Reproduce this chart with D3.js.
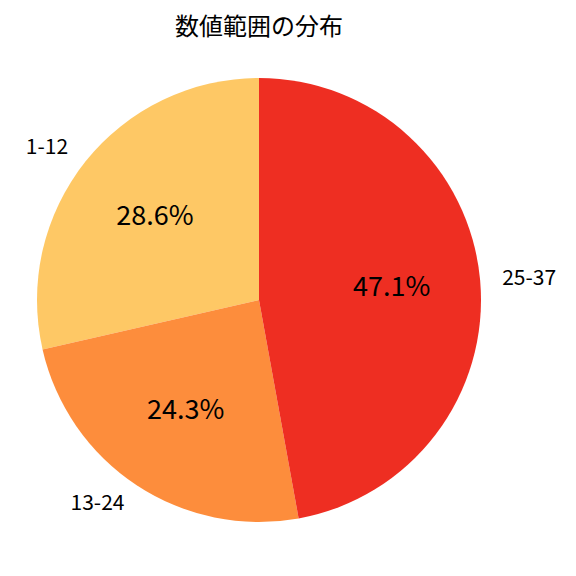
<!DOCTYPE html>
<html><head><meta charset="utf-8">
<script src="https://cdn.jsdelivr.net/npm/d3@7"></script>
<style>body{margin:0;background:#fff;} text{font-family:"Noto Sans CJK JP","Noto Sans",sans-serif;}</style>
</head><body>
<svg id="c" width="576" height="576"></svg>
<script>
const categories = ["1-12", "13-24", "25-37"];
const counts = [20, 17, 33];
const colors = ["#FEC865", "#FD8D3C", "#EE2E22"];
const title = "数値範囲の分布";

const svg = d3.select("#c");
const cx = 259, cy = 300, r = 222;
const data = categories.map((c, i) => ({cat: c, v: counts[i], col: colors[i]}));
const total = d3.sum(counts);
// counterclockwise from top (matplotlib startangle=90)
const pie = d3.pie().value(d => d.v).sort(null).startAngle(0).endAngle(-2 * Math.PI);
const arcs = pie(data);
const arc = d3.arc().innerRadius(0).outerRadius(r);
const g = svg.append("g").attr("transform", `translate(${cx},${cy})`);
g.selectAll("path").data(arcs).join("path").attr("d", arc).attr("fill", d => d.data.col);

const mid = d => (d.startAngle + d.endAngle) / 2;
g.selectAll("text.lab").data(arcs).join("text").attr("class", "lab")
  .attr("x", d => Math.sin(mid(d)) * r * 1.1)
  .attr("y", d => -Math.cos(mid(d)) * r * 1.1)
  .attr("dy", "-0.12em")
  .attr("text-anchor", d => Math.sin(mid(d)) >= 0 ? "start" : "end")
  .attr("dominant-baseline", "central")
  .attr("font-size", 21).attr("fill", "#000")
  .text(d => d.data.cat);
g.selectAll("text.pct").data(arcs).join("text").attr("class", "pct")
  .attr("x", d => Math.sin(mid(d)) * r * 0.6)
  .attr("y", d => -Math.cos(mid(d)) * r * 0.6)
  .attr("dy", "-0.12em")
  .attr("text-anchor", "middle")
  .attr("dominant-baseline", "central")
  .attr("font-size", 27).attr("fill", "#000")
  .text(d => (d.data.v / total * 100).toFixed(1) + "%");

svg.append("text").attr("x", 259).attr("y", 27).attr("dy", "-0.1em").attr("text-anchor", "middle")
  .attr("dominant-baseline", "central").attr("font-size", 24).attr("fill", "#000").text(title);
</script>
</body></html>
